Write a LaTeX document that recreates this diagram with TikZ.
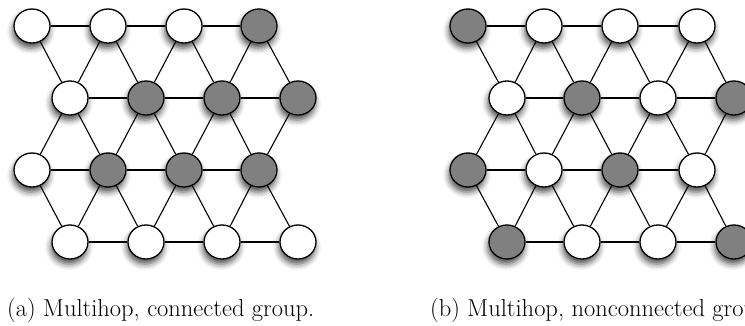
\documentclass[tikz,border=0pt]{standalone}
\usepackage{tikz}
\usetikzlibrary{shapes.geometric,shadows.blur}
\definecolor{nodegray}{RGB}{128,128,128}
\tikzset{
  site/.style={ellipse,draw=black,line width=1.3pt,fill=white,
    minimum width=36pt,minimum height=34pt,inner sep=0pt,
    blur shadow={shadow xshift=-1pt,shadow yshift=-5pt,shadow blur radius=6pt,shadow opacity=70}},
  member/.style={site,fill=nodegray},
  link/.style={draw=black,line width=1.1pt}
}

\begin{document}
\begin{tikzpicture}[x=1pt,y=-1pt]
\useasboundingbox (0,0) rectangle (745,325);

% lattice (a):
\node[site]   (a11) at (32,26) {};
\node[site]   (a12) at (108,26) {};
\node[site]   (a13) at (184,26) {};
\node[member] (a14) at (259,26) {};
\node[site]   (a21) at (70,98) {};
\node[member] (a22) at (146,98) {};
\node[member] (a23) at (222,98) {};
\node[member] (a24) at (298,98) {};
\node[site]   (a31) at (32,170) {};
\node[member] (a32) at (108,170) {};
\node[member] (a33) at (184,170) {};
\node[member] (a34) at (259,170) {};
\node[site]   (a41) at (70,242) {};
\node[site]   (a42) at (146,242) {};
\node[site]   (a43) at (222,242) {};
\node[site]   (a44) at (298,242) {};
\path[link] (a11) -- (a12) -- (a13) -- (a14);
\path[link] (a21) -- (a22) -- (a23) -- (a24);
\path[link] (a31) -- (a32) -- (a33) -- (a34);
\path[link] (a41) -- (a42) -- (a43) -- (a44);
\path[link] (a11) -- (a21) -- (a12) -- (a22) -- (a13) -- (a23) -- (a14) -- (a24);
\path[link] (a31) -- (a21) -- (a32) -- (a22) -- (a33) -- (a23) -- (a34) -- (a24);
\path[link] (a31) -- (a41) -- (a32) -- (a42) -- (a33) -- (a43) -- (a34) -- (a44);

% lattice (b):
\node[member] (b11) at (468,26) {};
\node[site]   (b12) at (544,26) {};
\node[site]   (b13) at (620,26) {};
\node[site]   (b14) at (697,26) {};
\node[site]   (b21) at (507,98) {};
\node[member] (b22) at (582,98) {};
\node[site]   (b23) at (658,98) {};
\node[member] (b24) at (734,98) {};
\node[member] (b31) at (468,170) {};
\node[site]   (b32) at (544,170) {};
\node[member] (b33) at (620,170) {};
\node[site]   (b34) at (697,170) {};
\node[member] (b41) at (507,242) {};
\node[site]   (b42) at (582,242) {};
\node[site]   (b43) at (658,242) {};
\node[member] (b44) at (734,242) {};
\path[link] (b11) -- (b12) -- (b13) -- (b14);
\path[link] (b21) -- (b22) -- (b23) -- (b24);
\path[link] (b31) -- (b32) -- (b33) -- (b34);
\path[link] (b41) -- (b42) -- (b43) -- (b44);
\path[link] (b11) -- (b21) -- (b12) -- (b22) -- (b13) -- (b23) -- (b14) -- (b24);
\path[link] (b31) -- (b21) -- (b32) -- (b22) -- (b33) -- (b23) -- (b34) -- (b24);
\path[link] (b31) -- (b41) -- (b32) -- (b42) -- (b33) -- (b43) -- (b34) -- (b44);

% captions:
\node[anchor=base west,inner sep=0pt,font=\fontsize{24.5}{29}\selectfont] (capa) at (7,316) {(a) Multihop, connected group.};
\node[anchor=base west,inner sep=0pt,font=\fontsize{24.5}{29}\selectfont] (capb) at (430,316) {(b) Multihop, nonconnected group.};

\end{tikzpicture}
\end{document}
